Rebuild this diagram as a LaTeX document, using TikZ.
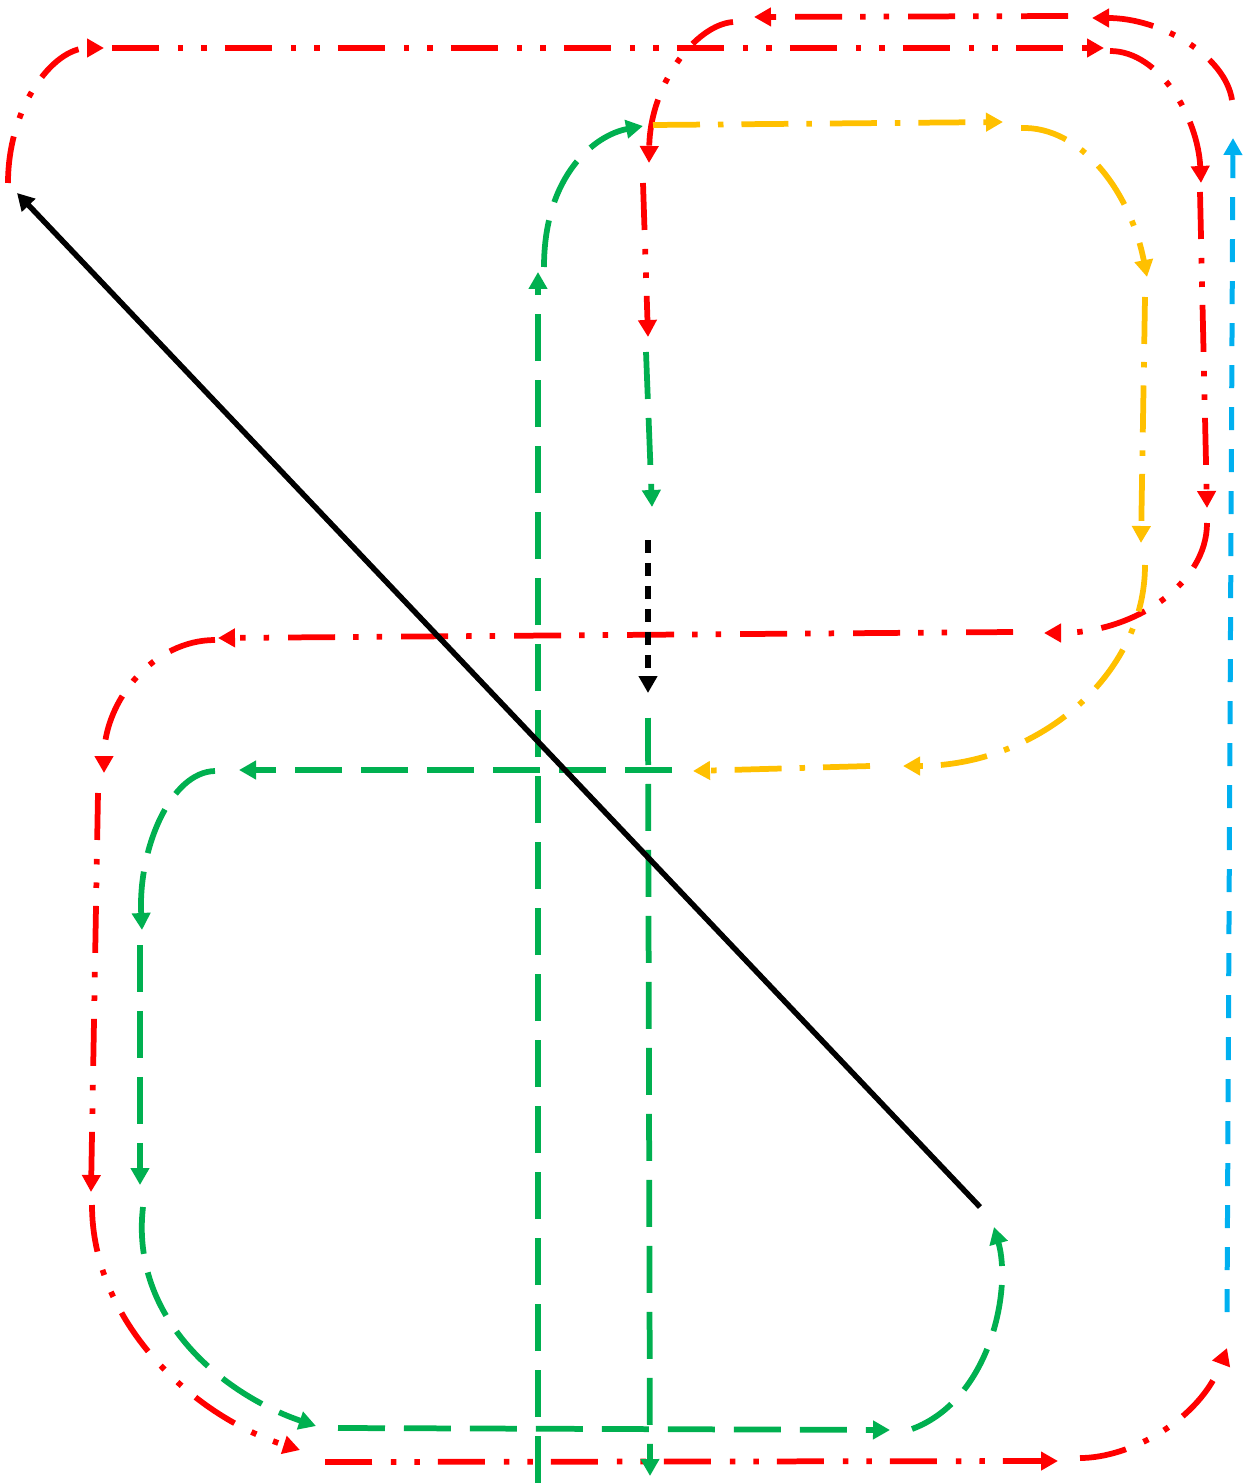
\documentclass[tikz,border=0pt]{standalone}
\usepackage{tikz}
\usetikzlibrary{arrows.meta}
\definecolor{pptred}{RGB}{255,0,0}
\definecolor{pptgreen}{RGB}{0,176,80}
\definecolor{pptgold}{RGB}{255,192,0}
\definecolor{pptblue}{RGB}{0,176,240}

\begin{document}
\begin{tikzpicture}[x=0.02cm, y=-0.02cm]

        % Styles for the tracks
        \tikzset{
            track/.style={line width=1.15mm, -{Triangle[length=3.4mm, width=3.6mm]}},
            redtrack/.style={track, draw=pptred, dash pattern=on 9.4mm off 3.8mm on 1.1mm off 3.6mm on 1.1mm off 3.6mm},
            greentrack/.style={track, draw=pptgreen, dash pattern=on 9.4mm off 3.8mm},
            goldtrack/.style={track, draw=pptgold, dash pattern=on 9.4mm off 3.6mm on 1.1mm off 3.6mm},
            bluetrack/.style={track, draw=pptblue, line width=1mm, dash pattern=on 4.6mm off 3.8mm},
            blacktrack/.style={track, draw=black, line width=1.2mm, dash pattern=on 2.6mm off 2mm},
            blackline/.style={track, draw=black, line width=1.1mm}
        }

        \useasboundingbox (0,0) rectangle (1247,1483);

        % =================================================================
        % 1. OUTER RED LOOP
        % =================================================================

        % Define Coordinates
        \coordinate (R1) at (8,183);
        \coordinate (R2) at (104,48);
        \coordinate (R3) at (112,48);
        \coordinate (R4) at (1104,48);
        \coordinate (R5) at (1110,51);
        \coordinate (R6) at (1201,183);
        \coordinate (R7) at (1200,192);
        \coordinate (R8) at (1207,508);
        \coordinate (R9) at (1207,523);
        \coordinate (R10) at (1044,633);
        \coordinate (R11) at (1013,632);
        \coordinate (R12) at (218,638);
        \coordinate (R13) at (215,640);
        \coordinate (R14) at (104,773);
        \coordinate (R15) at (98,793);
        \coordinate (R16) at (91,1192);
        \coordinate (R17) at (92,1205);
        \coordinate (R18) at (300,1450);
        \coordinate (R19) at (325,1462);
        \coordinate (R20) at (1058,1461);
        \coordinate (R21) at (1080,1458);
        \coordinate (R22) at (1227,1348);

        % Draw the pieces one by one
        \draw[redtrack] (R1) .. controls +(0,-75) and +(-52,0) .. (R2);
        \draw[redtrack] (R3) -- (R4);
        \draw[redtrack] (R5) .. controls +(50,0) and +(-3,-65) .. (R6);
        \draw[redtrack] (R7) -- (R8);
        \draw[redtrack] (R9) .. controls +(0,61) and +(90,0) .. (R10);
        \draw[redtrack] (R11) -- (R12);
        \draw[redtrack] (R13) .. controls +(-61,0) and +(0,-73) .. (R14);
        \draw[redtrack] (R15) -- (R16);
        \draw[redtrack] (R17) .. controls +(0,115) and +(-110,-35) .. (R18);
        \draw[redtrack] (R19) -- (R20);
        \draw[redtrack] (R21) .. controls +(50,0) and +(-27,72) .. (R22);

        % =================================================================
        % 2. INNER RED LOOP
        % =================================================================

        \coordinate (S1) at (1232,100);
        \coordinate (S2) at (1092,18);
        \coordinate (S3) at (1068,16);
        \coordinate (S4) at (754,17);
        \coordinate (S5) at (733,22);
        \coordinate (S6) at (649,163);
        \coordinate (S7) at (643,183);
        \coordinate (S8) at (648,337);

        \draw[redtrack] (S1) .. controls +(-7,-45) and +(68,0) .. (S2);
        \draw[redtrack] (S3) -- (S4);
        \draw[redtrack] (S5) .. controls +(-38,3) and +(1,-78) .. (S6);
        \draw[redtrack] (S7) -- (S8);

        % =================================================================
        % 3. GOLD LOOP
        % =================================================================

        \coordinate (Y1) at (653,125);
        \coordinate (Y2) at (1003,122);
        \coordinate (Y3) at (1021,128);
        \coordinate (Y4) at (1147,277);
        \coordinate (Y5) at (1145,297);
        \coordinate (Y6) at (1141,543);
        \coordinate (Y7) at (1145,565);
        \coordinate (Y8) at (903,766);
        \coordinate (Y9) at (870,766);
        \coordinate (Y10) at (693,771);

        \draw[goldtrack] (Y1) -- (Y2);
        \draw[goldtrack] (Y3) .. controls +(59,-2) and +(-17,-87) .. (Y4);
        \draw[goldtrack] (Y5) -- (Y6);
        \draw[goldtrack] (Y7) .. controls +(0,111) and +(134,0) .. (Y8);
        \draw[goldtrack] (Y9) -- (Y10);

        % =================================================================
        % 4. GREEN LOOP
        % =================================================================

        \coordinate (G1) at (538,1483);
        \coordinate (G2) at (538,272);
        \coordinate (G3) at (544,267);
        \coordinate (G4) at (643,126);
        \coordinate (G5) at (646,352);
        \coordinate (G6) at (652,507);
        \coordinate (G7) at (648,718);
        \coordinate (G8) at (650,1476);
        \coordinate (G9) at (672,770);
        \coordinate (G10) at (239,770);
        \coordinate (G11) at (215,771);
        \coordinate (G12) at (142,930);
        \coordinate (G13) at (140,945);
        \coordinate (G14) at (140,1185);
        \coordinate (G15) at (143,1207);
        \coordinate (G16) at (316,1426);
        \coordinate (G17) at (338,1428);
        \coordinate (G18) at (890,1430);
        \coordinate (G19) at (912,1429);
        \coordinate (G20) at (994,1227);

        \draw[greentrack] (G1) -- (G2);
        \draw[greentrack] (G3) .. controls +(0,-92) and +(-48,9) .. (G4);
        \draw[greentrack] (G5) -- (G6);
        \draw[greentrack] (G7) -- (G8);
        \draw[greentrack] (G9) -- (G10);
        \draw[greentrack] (G11) .. controls +(-45,1) and +(-4,-80) .. (G12);
        \draw[greentrack] (G13) -- (G14);
        \draw[greentrack] (G15) .. controls +(-13,113) and +(-91,-31) .. (G16);
        \draw[greentrack] (G17) -- (G18);
        \draw[greentrack] (G19) .. controls +(78,-29) and +(18,63) .. (G20);

        % =================================================================
        % 5. BLUE, BLACK
        % =================================================================

        \coordinate (B1) at (1227,1312);
        \coordinate (B2) at (1233,138);
        \coordinate (K1) at (648,540);
        \coordinate (K2) at (648,693);
        \coordinate (K3) at (980,1207);
        \coordinate (K4) at (17,193);

        \draw[bluetrack] (B1) -- (B2);
        \draw[blacktrack] (K1) -- (K2);
        \draw[blackline] (K3) -- (K4);

\end{tikzpicture}
\end{document}
